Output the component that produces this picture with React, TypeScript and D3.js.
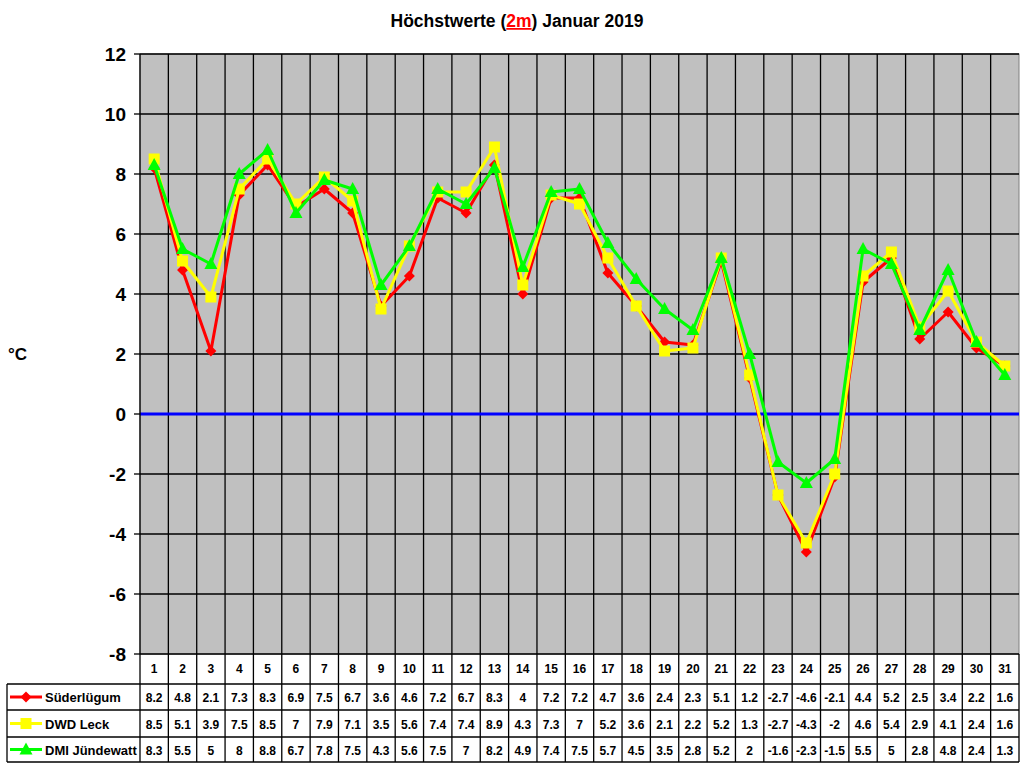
import React from "react";
import * as d3 from "d3";

const days = d3.range(1, 32).map(String);
const suederluegum = [8.2, 4.8, 2.1, 7.3, 8.3, 6.9, 7.5, 6.7, 3.6, 4.6, 7.2, 6.7, 8.3, 4, 7.2, 7.2, 4.7, 3.6, 2.4, 2.3, 5.1, 1.2, -2.7, -4.6, -2.1, 4.4, 5.2, 2.5, 3.4, 2.2, 1.6];
const dwdLeck = [8.5, 5.1, 3.9, 7.5, 8.5, 7, 7.9, 7.1, 3.5, 5.6, 7.4, 7.4, 8.9, 4.3, 7.3, 7, 5.2, 3.6, 2.1, 2.2, 5.2, 1.3, -2.7, -4.3, -2, 4.6, 5.4, 2.9, 4.1, 2.4, 1.6];
const dmiJuendewatt = [8.3, 5.5, 5, 8, 8.8, 6.7, 7.8, 7.5, 4.3, 5.6, 7.5, 7, 8.2, 4.9, 7.4, 7.5, 5.7, 4.5, 3.5, 2.8, 5.2, 2, -1.6, -2.3, -1.5, 5.5, 5, 2.8, 4.8, 2.4, 1.3];
const yTicks = [12, 10, 8, 6, 4, 2, 0, -2, -4, -6, -8];

const seriesList = [
  { name: "Süderlügum", values: suederluegum, color: "#ff0000", marker: "diamond" },
  { name: "DWD Leck", values: dwdLeck, color: "#ffff00", marker: "square" },
  { name: "DMI Jündewatt", values: dmiJuendewatt, color: "#00ff00", marker: "triangle" },
];

const W = 1024, H = 768;
const left = 140, right = 1019, top = 54, bottom = 654;
const rowLines = [654, 684, 710, 737, 762];

function Marker({ type, x, y, color }: { type: string; x: number; y: number; color: string }) {
  if (type === "diamond") {
    return <path d={`M${x},${y - 5.5}L${x + 5.5},${y}L${x},${y + 5.5}L${x - 5.5},${y}Z`} fill={color} />;
  }
  if (type === "square") {
    return <rect x={x - 5.5} y={y - 5.5} width={11} height={11} fill={color} />;
  }
  return <path d={`M${x},${y - 7}L${x + 6.5},${y + 5}L${x - 6.5},${y + 5}Z`} fill={color} />;
}

export default function App() {
  const x = d3.scaleBand<string>().domain(days).range([left, right]);
  const y = d3.scaleLinear().domain([-8, 12]).range([bottom, top]);
  const cx = (d: string) => (x(d) as number) + x.bandwidth() / 2;
  const font = "Arial, 'Liberation Sans', sans-serif";
  const line = (vals: number[]) =>
    d3.line<number>().x((_, i) => cx(days[i])).y((v) => y(v))(vals) as string;

  return (
    <svg width={W} height={H} style={{ position: "absolute", left: 0, top: 0, background: "#fff" }} fontFamily={font}>
      <rect x={0} y={0} width={W} height={H} fill="#fff" />
      {/* title */}
      <text x={517} y={27} textAnchor="middle" fontSize={17.5} fontWeight="bold" fill="#000">
        Höchstwerte (<tspan fill="#ff0000" textDecoration="underline">2m</tspan>) Januar 2019
      </text>
      {/* plot area */}
      <rect x={left} y={top} width={right - left} height={bottom - top} fill="#c0c0c0" stroke="#808080" strokeWidth={1} />
      {yTicks.map((t) => (
        <line key={"h" + t} x1={left} x2={right} y1={y(t)} y2={y(t)} stroke="#000" strokeWidth={1.3} />
      ))}
      {days.slice(1).map((d) => (
        <line key={"v" + d} x1={x(d)} x2={x(d)} y1={top} y2={rowLines[4]} stroke="#000" strokeWidth={1.3} />
      ))}
      <line x1={left} x2={right} y1={y(0)} y2={y(0)} stroke="#0000ff" strokeWidth={3} />
      {/* y axis */}
      <line x1={left} x2={left} y1={top} y2={bottom} stroke="#000" strokeWidth={1.3} />
      {yTicks.map((t) => (
        <g key={"t" + t}>
          <line x1={left - 6} x2={left} y1={y(t)} y2={y(t)} stroke="#000" strokeWidth={1.3} />
          <text x={126} y={y(t) + 7} textAnchor="end" fontSize={19} fontWeight="bold" fill="#000">{t}</text>
        </g>
      ))}
      <text x={8} y={360} fontSize={17} fontWeight="bold" fill="#000">°C</text>
      {/* series */}
      {seriesList.map((s) => (
        <g key={s.name}>
          <path d={line(s.values)} fill="none" stroke={s.color} strokeWidth={3} strokeLinejoin="round" />
          {s.values.map((v, i) => (
            <Marker key={i} type={s.marker} x={cx(days[i])} y={y(v)} color={s.color} />
          ))}
        </g>
      ))}
      {/* data table */}
      <line x1={left} x2={left} y1={bottom} y2={rowLines[4]} stroke="#000" strokeWidth={1.3} />
      <line x1={right} x2={right} y1={bottom} y2={rowLines[4]} stroke="#000" strokeWidth={1.3} />
      <line x1={7} x2={7} y1={rowLines[1]} y2={rowLines[4]} stroke="#000" strokeWidth={1.3} />
      {rowLines.slice(1).map((r) => (
        <line key={"r" + r} x1={7} x2={right} y1={r} y2={r} stroke="#000" strokeWidth={1.3} />
      ))}
      {days.map((d) => (
        <text key={"d" + d} x={cx(d)} y={673} textAnchor="middle" fontSize={12} fontWeight="bold" fill="#000">{d}</text>
      ))}
      {seriesList.map((s, si) => {
        const yc = (rowLines[si + 1] + rowLines[si + 2]) / 2;
        return (
          <g key={"row" + s.name}>
            <line x1={10} x2={42} y1={yc} y2={yc} stroke={s.color} strokeWidth={3} />
            <Marker type={s.marker} x={26} y={yc} color={s.color} />
            <text x={45} y={yc + 5} fontSize={13} fontWeight="bold" fill="#000">{s.name}</text>
            {s.values.map((v, i) => (
              <text key={i} x={cx(days[i])} y={yc + 5} textAnchor="middle" fontSize={12} fontWeight="bold" fill="#000">{v}</text>
            ))}
          </g>
        );
      })}
    </svg>
  );
}
